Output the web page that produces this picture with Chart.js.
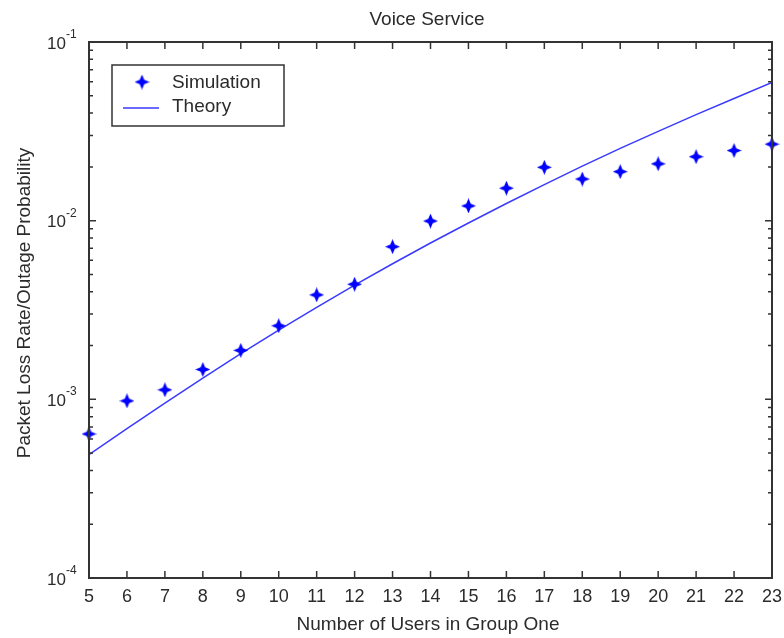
<!DOCTYPE html>
<html>
<head>
<meta charset="utf-8">
<title>Voice Service</title>
<script src="https://cdn.jsdelivr.net/npm/chart.js@4.4.1/dist/chart.umd.min.js"></script>
<style>
  html, body { margin: 0; padding: 0; background: #fff; }
  #wrap { width: 784px; height: 638px; }
</style>
</head>
<body>
<div id="wrap"><canvas id="voiceChart" width="784" height="638"></canvas></div>
<script>
// users in group one (x axis)
const users = [5, 6, 7, 8, 9, 10, 11, 12, 13, 14, 15, 16, 17, 18, 19, 20, 21, 22, 23];
// packet loss rate from simulation
const simulation = [6.4e-4, 9.8e-4, 1.13e-3, 1.47e-3, 1.88e-3, 2.58e-3, 3.84e-3, 4.41e-3, 7.15e-3, 9.95e-3,
  1.21e-2, 1.52e-2, 1.99e-2, 1.71e-2, 1.88e-2, 2.08e-2, 2.28e-2, 2.47e-2, 2.68e-2];
// outage probability from theory
const theory = [4.9e-4, 6.85e-4, 9.53e-4, 1.315e-3, 1.8e-3, 2.44e-3, 3.27e-3, 4.36e-3, 5.74e-3, 7.5e-3,
  9.7e-3, 1.247e-2, 1.59e-2, 2.02e-2, 2.54e-2, 3.16e-2, 3.92e-2, 4.83e-2, 5.93e-2];
// y axis decades (10^e)
const yDecades = [-4, -3, -2, -1];

const FONT = '"Liberation Sans", Arial, sans-serif';
const TEXT = "#2b2b2b";
const AXIS = "#333";

// 4-point star marker
function makeStar(size, color) {
  const c = document.createElement("canvas");
  c.width = size;
  c.height = size;
  const g = c.getContext("2d");
  const m = size / 2;
  g.beginPath();
  for (let k = 0; k < 8; k++) {
    const a = (k * Math.PI) / 4 - Math.PI / 2;
    const r = k % 2 === 0 ? m : m * 0.42;
    const px = m + r * Math.cos(a);
    const py = m + r * Math.sin(a);
    if (k === 0) g.moveTo(px, py);
    else g.lineTo(px, py);
  }
  g.closePath();
  g.fillStyle = color;
  g.fill();
  return c;
}

const star = makeStar(15, "#0000ff");

// frame, inward ticks, labels and legend
const framePlugin = {
  id: "frame",
  afterDraw(chart) {
    const ctx = chart.ctx;
    const a = chart.chartArea;
    const xs = chart.scales.x;
    const ys = chart.scales.y;
    ctx.save();

    // ticks
    ctx.strokeStyle = AXIS;
    ctx.lineWidth = 1.5;
    ctx.beginPath();
    users.forEach((u) => {
      const px = xs.getPixelForValue(u);
      ctx.moveTo(px, a.bottom);
      ctx.lineTo(px, a.bottom - 7);
      ctx.moveTo(px, a.top);
      ctx.lineTo(px, a.top + 7);
    });
    yDecades.forEach((e) => {
      for (let m = 1; m <= 9; m++) {
        if (e === -1 && m > 1) break;
        const py = ys.getPixelForValue(m * Math.pow(10, e));
        const len = m === 1 ? 7 : 4;
        ctx.moveTo(a.left, py);
        ctx.lineTo(a.left + len, py);
        ctx.moveTo(a.right, py);
        ctx.lineTo(a.right - len, py);
      }
    });
    ctx.stroke();

    // box
    ctx.lineWidth = 2;
    ctx.strokeRect(a.left, a.top, a.right - a.left, a.bottom - a.top);

    // y tick labels 10^e
    ctx.fillStyle = TEXT;
    yDecades.forEach((e) => {
      const py = ys.getPixelForValue(Math.pow(10, e));
      ctx.font = "17px " + FONT;
      ctx.textAlign = "right";
      ctx.textBaseline = "alphabetic";
      ctx.fillText("10", 66, py + 6.5);
      ctx.font = "12px " + FONT;
      ctx.textAlign = "left";
      ctx.fillText(String(e), 66, py - 4);
    });

    // titles
    ctx.font = "19px " + FONT;
    ctx.textAlign = "center";
    ctx.fillText("Voice Service", 427, 25);
    ctx.fillText("Number of Users in Group One", 428, 630);
    ctx.save();
    ctx.translate(30, 303);
    ctx.rotate(-Math.PI / 2);
    ctx.fillText("Packet Loss Rate/Outage Probability", 0, 0);
    ctx.restore();

    // legend
    const sets = chart.data.datasets;
    ctx.fillStyle = "#fff";
    ctx.fillRect(112, 65, 172, 61);
    ctx.strokeStyle = AXIS;
    ctx.lineWidth = 1.5;
    ctx.strokeRect(112, 65, 172, 61);
    ctx.drawImage(star, 142 - 7.5, 82 - 7.5);
    ctx.strokeStyle = sets[1].borderColor;
    ctx.lineWidth = sets[1].borderWidth;
    ctx.beginPath();
    ctx.moveTo(123, 108);
    ctx.lineTo(159, 108);
    ctx.stroke();
    ctx.fillStyle = TEXT;
    ctx.font = "19px " + FONT;
    ctx.textAlign = "left";
    ctx.textBaseline = "middle";
    ctx.fillText(sets[0].label, 172, 83);
    ctx.fillText(sets[1].label, 172, 107);

    ctx.restore();
  },
};

const config = {
  type: "scatter",
  data: {
    datasets: [
      {
        label: "Simulation",
        data: users.map((u, i) => ({ x: u, y: simulation[i] })),
        pointStyle: star,
        showLine: false,
        clip: false,
      },
      {
        label: "Theory",
        data: users.map((u, i) => ({ x: u, y: theory[i] })),
        showLine: true,
        borderColor: "#3a3aff",
        borderWidth: 1.5,
        pointRadius: 0,
        tension: 0,
      },
    ],
  },
  options: {
    responsive: false,
    animation: false,
    layout: { padding: { top: 42, right: 12, left: 0, bottom: 0 } },
    plugins: {
      legend: { display: false },
      tooltip: { enabled: false },
    },
    scales: {
      x: {
        type: "linear",
        min: 5,
        max: 23,
        afterBuildTicks: (s) => {
          s.ticks = users.map((u) => ({ value: u }));
        },
        afterFit: (s) => {
          s.height = 60;
          s.paddingLeft = 0;
          s.paddingRight = 0;
        },
        grid: { display: false },
        border: { display: false },
        ticks: {
          padding: 0,
          color: TEXT,
          font: { size: 18, family: FONT },
          maxRotation: 0,
          autoSkip: false,
        },
      },
      y: {
        type: "logarithmic",
        min: 1e-4,
        max: 1e-1,
        afterFit: (s) => {
          s.width = 89;
        },
        grid: { display: false },
        border: { display: false },
        ticks: { display: false },
      },
    },
  },
  plugins: [framePlugin],
};

document.addEventListener("DOMContentLoaded", () => {
  new Chart(document.getElementById("voiceChart"), config);
});
</script>
</body>
</html>
